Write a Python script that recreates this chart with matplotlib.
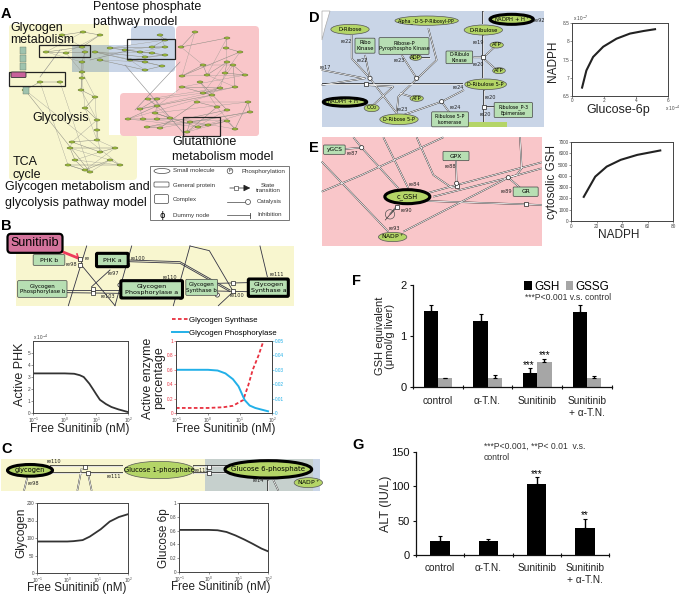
import matplotlib
matplotlib.use("Agg")
import matplotlib.pyplot as plt
from matplotlib.patches import FancyBboxPatch, Ellipse, Rectangle, Circle

plt.rcParams["font.family"] = ["Liberation Sans", "DejaVu Sans"]
W, H = 685, 598

# curves
phk_x = [0.1, 0.3, 1, 2, 3, 4, 6, 8, 10, 13, 20, 30, 50, 100]
phk_y = [3.3, 3.3, 3.3, 3.27, 3.15, 3.0, 2.45, 1.95, 1.55, 1.1, 0.75, 0.5, 0.3, 0.08]
gs_x = [0.1, 0.3, 1, 3, 6, 12.6, 18, 25, 38, 54, 80]
gs_y = [0.07, 0.07, 0.07, 0.08, 0.1, 0.18, 0.38, 0.6, 0.8, 1.0, 1.0]
gp_x = [0.1, 0.3, 1, 2, 3.5, 6, 9, 14, 20, 30, 50, 75]
gp_y = [0.03, 0.03, 0.03, 0.0295, 0.0275, 0.0235, 0.0185, 0.009, 0.0052, 0.0035, 0.0022, 0.0012]
glycogen_x = [0.1, 0.3, 1, 1.6, 3.2, 5.5, 12.6, 25, 50, 100]
glycogen_y = [90, 90, 90, 91, 94, 104, 125, 147, 160, 168]
g6p_x = [0.1, 0.3, 1, 2, 4, 8, 16, 30, 60, 100]
g6p_y = [0.61, 0.61, 0.61, 0.605, 0.58, 0.53, 0.47, 0.41, 0.34, 0.30]
nadph_x = [0.63, 0.9, 1.32, 1.95, 2.78, 3.62, 4.46, 5.19]
nadph_y = [6.73, 7.2, 7.57, 7.85, 8.07, 8.21, 8.28, 8.33]
gsh_x = [10, 19, 28, 39, 52, 70]
gsh_y = [2140, 3930, 4820, 5420, 5860, 6250]

# bar charts
groups_f = ["control", "α-T.N.", "Sunitinib", "Sunitinib\n+ α-T.N."]
gsh_val = [1.5, 1.3, 0.27, 1.48]
gsh_err = [0.11, 0.13, 0.1, 0.12]
gssg_val = [0.17, 0.18, 0.5, 0.18]
gssg_err = [0.01, 0.05, 0.05, 0.04]
alt_val = [20, 20, 103, 40]
alt_err = [7, 4, 10, 13]

# little nodes of the overview network in panel A
pink_nodes = [(195, 32), (181, 47), (227, 38), (226, 48), (240, 52), (182, 76), (203, 65), (207, 75),
              (227, 62), (225, 73), (245, 75), (233, 65), (235, 87), (203, 93), (220, 88), (182, 87),
              (212, 95), (140, 109), (157, 99), (148, 99), (157, 106), (128, 119), (143, 119), (157, 119),
              (170, 118), (155, 113), (198, 127), (208, 125), (227, 121), (235, 129), (248, 102), (250, 112),
              (190, 122), (187, 132), (217, 107), (197, 102), (160, 128), (147, 127), (227, 110), (200, 82)]
blue_nodes = [(160, 35), (165, 40), (152, 47), (165, 47), (110, 48), (125, 50), (140, 52), (152, 53),
              (165, 55), (145, 57), (95, 52), (130, 60), (145, 62), (162, 66), (145, 70), (100, 60)]
yellow_nodes = [(62, 35), (83, 32), (100, 35), (82, 47), (46, 52), (66, 53), (85, 52), (82, 62),
                (82, 72), (82, 78), (81, 90), (95, 97), (85, 108), (97, 120), (97, 130), (97, 140),
                (72, 142), (100, 152), (115, 148), (70, 148), (75, 160), (85, 170), (110, 160), (120, 165),
                (68, 165), (90, 172), (25, 90), (40, 82), (60, 82)]
complex_nodes = [(23, 50), (23, 58), (23, 66), (26, 90)]

fig = plt.figure(figsize=(W / 100, H / 100), dpi=100)
bg = fig.add_axes([0, 0, 1, 1], zorder=0)
bg.set_xlim(0, W)
bg.set_ylim(H, 0)
bg.axis("off")

GREEN = "#b7dfb3"
LIME = "#b4d567"
YEL = "#f8f6cf"
PINK = "#f9c6c9"
BLUE = "#c9d5e7"
org = (0, 0)


def px(x, y):
    return org[0] + x / 3, org[1] + y / 3


def round_rect(x0, y0, x1, y1, color, z=1):
    bg.add_patch(FancyBboxPatch((x0 + 4, y0 + 4), x1 - x0 - 8, y1 - y0 - 8, boxstyle="round,pad=4",
                                fc=color, ec="none", zorder=z))


def box(x, y, w, h, txt, bold=False, fs=3.8):
    cx, cy = px(x, y)
    bg.add_patch(FancyBboxPatch((cx - w / 6 + 1, cy - h / 6 + 1), w / 3 - 2, h / 3 - 2, boxstyle="round,pad=1",
                                fc=GREEN, ec="black" if bold else "#444444", lw=2.2 if bold else 0.5, zorder=5))
    bg.text(cx, cy, txt, fontsize=fs, ha="center", va="center", family="DejaVu Sans", zorder=6)


def ell(x, y, w, h, txt, bold=False, fs=3.8, fc=LIME):
    cx, cy = px(x, y)
    bg.add_patch(Ellipse((cx, cy), w / 3, h / 3, fc=fc, ec="black" if bold else "#555555",
                         lw=2.2 if bold else 0.5, zorder=5))
    bg.text(cx, cy, txt, fontsize=fs, ha="center", va="center", family="DejaVu Sans", zorder=6)


def wire(pts, white=True):
    xs = [px(a, b)[0] for a, b in pts]
    ys = [px(a, b)[1] for a, b in pts]
    if white:
        bg.plot(xs, ys, color="#222222", lw=1.1, zorder=3, solid_capstyle="butt")
        bg.plot(xs, ys, color="white", lw=0.6, zorder=3.5, solid_capstyle="butt")
    else:
        bg.plot(xs, ys, color="#333344", lw=0.6, zorder=3)


def sq(x, y):
    cx, cy = px(x, y)
    bg.add_patch(Rectangle((cx - 2, cy - 2), 4, 4, fc="white", ec="#222222", lw=0.5, zorder=5))


def dot(x, y):
    cx, cy = px(x, y)
    bg.add_patch(Circle((cx, cy), 2.1, fc="white", ec="#222222", lw=0.5, zorder=5))


def small(x, y, txt, fs=3.6):
    cx, cy = px(x, y)
    bg.text(cx, cy, txt, fontsize=fs, ha="center", va="center", family="DejaVu Sans", color="#222222", zorder=6)


# panel A backgrounds
round_rect(9, 24, 109, 180, YEL)
round_rect(9, 135, 137, 180, YEL)
round_rect(72, 45, 175, 72, BLUE, 1.2)
round_rect(131, 26, 175, 72, BLUE, 1.2)
round_rect(176, 26, 259, 136, PINK)
round_rect(120, 93, 259, 136, PINK)
bg.add_patch(Rectangle((72, 45), 37, 27, fc="#bcc9c4", ec="none", zorder=1.3))

# panel A overview network
for nodes, links in [(pink_nodes, 5), (blue_nodes, 3), (yellow_nodes, 3)]:
    for i in range(len(nodes) - 1):
        a, b = nodes[i], nodes[i + 1]
        bg.plot([a[0], b[0]], [a[1], b[1]], color="#8a8a80", lw=0.35, zorder=2)
        if i + links < len(nodes):
            c = nodes[i + links]
            bg.plot([a[0], c[0]], [a[1], c[1]], color="#999990", lw=0.25, zorder=2)
    for n in nodes:
        bg.add_patch(Ellipse(n, 6, 2.2, fc="#9cba3a", ec="#445522", lw=0.25, zorder=3))
for n in complex_nodes:
    bg.add_patch(Rectangle((n[0] - 3, n[1] - 3.5), 6, 7, fc="#9fc3ae", ec="#667766", lw=0.3, zorder=3))
for a, b in [((125, 65), (185, 135)), ((135, 110), (180, 62)), ((40, 77), (60, 50)), ((90, 60), (130, 50))]:
    bg.plot([a[0], b[0]], [a[1], b[1]], color="#888888", lw=0.4, zorder=2)
for x0, y0, x1, y1 in [(39, 45, 90, 57), (127, 39, 175, 59), (9, 72, 65, 86), (183, 117, 220, 136)]:
    bg.add_patch(Rectangle((x0, y0), x1 - x0, y1 - y0, fc="none", ec="#222222", lw=0.9, zorder=4))
bg.add_patch(FancyBboxPatch((12, 73), 13, 3.5, boxstyle="round,pad=1", fc="#c9609a", ec="#333333", lw=0.6, zorder=5))

for x, y, s, ha in [(10, 28, "Glycogen", "left"), (10, 40, "metabolism", "left"), (32, 118, "Glycolysis", "left"),
                    (13, 162, "TCA", "left"), (13, 175, "cycle", "left"), (93, 7, "Pentose phosphate", "left"),
                    (93, 22, "pathway model", "left"), (172, 142, "Glutathione", "left"),
                    (172, 157, "metabolism model", "left"), (5, 187, "Glycogen metabolism and", "left"),
                    (5, 203, "glycolysis pathway model", "left")]:
    bg.text(x, y, s, fontsize=9, ha=ha, va="center", color="#111111", zorder=7)

# legend of A
bg.add_patch(Rectangle((150, 165.5), 139, 54.5, fc="white", ec="#777777", lw=0.7, zorder=3))
bg.add_patch(Ellipse((162, 171), 16, 5, fc="white", ec="#444444", lw=0.5, zorder=4))
bg.add_patch(FancyBboxPatch((155, 183), 13, 3, boxstyle="round,pad=1", fc="white", ec="#444444", lw=0.5, zorder=4))
bg.add_patch(FancyBboxPatch((156, 196), 11, 6, boxstyle="round,pad=1.5", fc="white", ec="#444444", lw=0.5, zorder=4))
bg.add_patch(Circle((230, 171), 2.8, fc="white", ec="#444444", lw=0.5, zorder=4))
bg.text(230, 171, "P", fontsize=3, ha="center", va="center", zorder=5)
bg.text(162, 215, "ϕ", fontsize=6, ha="center", va="center", family="DejaVu Sans", zorder=5)
for x, y, s in [(173, 171, "Small molecule"), (173, 185.5, "General protein"), (173, 200, "Complex"),
                (173, 215, "Dummy node"), (242, 171.5, "Phosphorylation"), (257, 202, "Catalysis"),
                (257, 215, "Inhibition")]:
    bg.text(x, y, s, fontsize=4.4, ha="left", va="center", color="#333333", zorder=5)
bg.text(268, 188, "State\ntransition", fontsize=4.4, ha="center", va="center", color="#333333", zorder=5)
bg.annotate("", xy=(253, 188), xytext=(227, 188), arrowprops=dict(arrowstyle="-|>", lw=0.5, color="#222222"), zorder=4)
bg.add_patch(Rectangle((234, 186), 4, 4, fc="white", ec="#222222", lw=0.4, zorder=5))
bg.plot([227, 245], [202, 202], color="#444444", lw=0.5, zorder=4)
bg.add_patch(Circle((248, 202), 2.5, fc="white", ec="#444444", lw=0.5, zorder=5))
bg.plot([227, 250], [215, 215], color="#444444", lw=0.5, zorder=4)
bg.plot([250, 250], [212.5, 217.5], color="#444444", lw=0.6, zorder=4)

# panel B diagram
org = (0, 210)
bg.add_patch(Rectangle((16, 246), 278, 60, fc=YEL, ec="none", zorder=1))
for pts in [[(260, 108), (205, 287)], [(395, 108), (345, 287)], [(570, 108), (520, 287)],
            [(570, 108), (628, 122), (700, 245)], [(780, 108), (802, 200)], [(240, 160), (345, 287)],
            [(385, 150), (540, 155), (690, 240)], [(385, 155), (540, 160), (690, 245)], [(330, 180), (275, 230)],
            [(200, 240), (360, 240)], [(200, 248), (360, 250)], [(650, 220), (740, 218)], [(650, 243), (740, 245)],
            [(655, 287), (700, 245)]]:
    wire(pts, white=False)
for x, y in [(240, 148), (240, 165), (278, 237), (280, 250), (700, 220), (700, 244)]:
    sq(x, y)
for x, y in [(383, 165), (360, 225), (542, 262), (652, 255)]:
    dot(x, y)
bg.plot([63, 78], [252, 258], color="#ee3b5c", lw=2, zorder=4)
bg.plot([77, 79], [254, 260], color="#ee3b5c", lw=1.2, zorder=4)
box(147, 150, 95, 32, "PHK b", fs=4.4)
box(337, 150, 95, 40, "PHK a", bold=True, fs=4.6)
box(127, 237, 148, 50, "Glycogen\nPhosphorylase b", fs=4)
box(455, 238, 185, 52, "Glycogen\nPhosphorylase a", bold=True, fs=4.6)
box(605, 232, 95, 48, "Glycogen\nSynthase b", fs=4)
box(805, 233, 120, 52, "Glycogen\nSynthase a", bold=True, fs=4.6)
for x, y, s in [(260, 145, "re"), (415, 145, "re100"), (340, 190, "re97"), (215, 165, "re98"),
                (508, 203, "re110"), (830, 195, "re111"), (712, 257, "re100"), (323, 260, "re103")]:
    small(x, y, s)
cx, cy = px(105, 100)
bg.add_patch(FancyBboxPatch((cx - 24, cy - 6), 48, 12, boxstyle="round,pad=3.5", fc="#d4739c", ec="black", lw=1.6, zorder=7))
bg.text(cx, cy, "Sunitinib", fontsize=9, ha="center", va="center", zorder=8)

# panel C diagram
org = (0, 400)
bg.add_patch(Rectangle((1, 459), 204, 32, fc=YEL, ec="none", zorder=1))
bg.add_patch(Rectangle((205, 459), 108, 32, fc="#c6d0cd", ec="none", zorder=1))
bg.add_patch(Rectangle((313, 459), 7, 32, fc=BLUE, ec="none", zorder=1))
for pts in [[(150, 198), (370, 198)], [(150, 220), (370, 220)], [(580, 198), (680, 198)], [(580, 218), (680, 218)],
            [(245, 205), (232, 272)], [(265, 225), (275, 272)], [(82, 232), (72, 272)], [(805, 240), (805, 272)],
            [(820, 240), (835, 272)]]:
    wire(pts)
for x, y in [(255, 200), (265, 219), (628, 200), (628, 218)]:
    sq(x, y)
ell(90, 211, 135, 35, "glycogen", bold=True, fs=4.8)
ell(478, 210, 210, 52, "Glucose 1-phosphate", fs=4.8)
ell(805, 208, 260, 52, "Glucose 6-phosphate", bold=True, fs=5)
ell(925, 248, 85, 30, "NADP$^+$", fs=4.4)
for x, y, s in [(162, 185, "re110"), (340, 231, "re111"), (100, 250, "re98"), (605, 210, "re113"),
                (775, 243, "re14")]:
    small(x, y, s)

# panel D diagram
org = (320, 0)
bg.add_patch(Rectangle((322, 11), 222, 116, fc=BLUE, ec="none", zorder=1))
bg.fill([322, 330, 325, 322], [11, 11, 28, 40], fc="white", ec="#aaaaaa", lw=0.5, zorder=2)
for pts in [[(490, 33), (490, 72)], [(5, 253), (430, 253)], [(95, 105), (95, 175), (150, 235), (230, 340)],
            [(135, 165), (150, 235)], [(230, 340), (235, 290), (350, 180), (325, 85)], [(245, 165), (290, 235)],
            [(490, 105), (490, 235)], [(275, 175), (330, 175)], [(5, 210), (135, 235), (5, 255)], [(135, 255), (220, 260), (160, 315)],
            [(432, 270), (365, 305), (250, 345)], [(365, 305), (390, 340)], [(492, 270), (492, 370)], [(492, 322), (525, 322)],
            [(460, 172), (490, 172), (525, 140)], [(490, 175), (530, 210)], [(240, 280), (290, 295)]]:
    wire(pts)
for x, y in [(137, 253), (490, 172), (491, 322)]:
    sq(x, y)
for x, y in [(150, 235), (290, 235), (365, 305)]:
    dot(x, y)
ell(90, 88, 115, 30, "D-Ribose")
ell(320, 62, 190, 28, "Alpha_-D-5-P-Ribosyl-PP", fs=3.4)
ell(575, 58, 130, 30, "NADPH + H$^+$", bold=True)
ell(490, 90, 115, 30, "D-Ribulose")
ell(530, 135, 40, 18, "ATP")
ell(287, 172, 35, 18, "ADP")
ell(537, 212, 38, 18, "ATP")
ell(497, 253, 125, 32, "D-Ribulose 5-P", fs=3.6)
ell(290, 295, 40, 18, "ATP")
ell(75, 306, 130, 25, "NADPH + H$^+$", bold=True)
ell(155, 324, 45, 22, "CO$_2$")
ell(237, 358, 115, 32, "D-Ribose 5-P", fs=3.6)
bg.add_patch(Rectangle((467, 122), 40, 5, fc=LIME, ec="none", zorder=4))
box(135, 137, 60, 45, "Ribo\nKinase")
box(252, 138, 150, 50, "Ribose-P\nPyrophospho Kinase", fs=3.6)
box(418, 172, 80, 38, "D-Ribulo\nKinase", fs=3.4)
box(580, 330, 115, 45, "Ribulose_P-3\nEpimerase", fs=3.4)
box(390, 358, 110, 45, "Ribulose 5-P\nIsomerase", fs=3.4)
for x, y, s in [(78, 125, "re22"), (127, 180, "re22"), (238, 183, "re23"), (476, 128, "re19"), (475, 192, "re20"),
                (15, 203, "re17"), (415, 263, "re24"), (405, 323, "re24"), (510, 292, "re20"), (495, 342, "re20"),
                (248, 328, "re23"), (658, 60, "re92")]:
    small(x, y, s)

# panel E diagram
org = (320, 125)
bg.add_patch(Rectangle((322, 137), 220, 109, fc=PINK, ec="none", zorder=1))
for pts in [[(100, 37), (125, 68), (235, 190)], [(190, 37), (265, 190)], [(290, 37), (340, 150), (395, 188), (412, 185)],
            [(5, 200), (125, 150), (370, 37)], [(5, 110), (205, 320)], [(600, 37), (605, 130), (590, 150), (565, 158), (250, 320)],
            [(320, 205), (410, 180), (665, 112)], [(340, 215), (565, 158), (665, 130)], [(320, 228), (618, 238), (665, 240)],
            [(75, 72), (125, 68)], [(408, 108), (410, 180)], [(565, 158), (600, 188)], [(230, 245), (210, 268)]]:
    wire(pts)
sq(412, 184)
sq(618, 238)
sq(230, 246)
dot(125, 68)
dot(565, 158)
dot(410, 175)
ell(210, 268, 28, 28, "", fc="none")
bg.plot([320 + 196 / 3, 320 + 224 / 3], [125 + 285 / 3, 125 + 252 / 3], color="#333333", lw=0.5, zorder=6)
box(43, 74, 65, 28, "yGCS", fs=4.2)
box(408, 93, 78, 28, "GPX", fs=4.2)
box(617, 200, 75, 28, "GR", fs=4.2)
ell(262, 215, 135, 42, "c_GSH", bold=True, fs=4.8)
ell(218, 336, 85, 28, "NADP$^+$", fs=4.4)
for x, y, s in [(97, 85, "re87"), (390, 125, "re88"), (560, 200, "re89"), (284, 180, "re84"), (260, 255, "re90"),
                (224, 312, "re93")]:
    small(x, y, s)

# panel letters
for x, y, s in [(1, 14, "A"), (1, 226, "B"), (1, 449, "C"), (309, 18, "D"), (309, 148, "E"), (352, 281, "F"),
                (352, 445, "G")]:
    bg.text(x, y, s, fontsize=10.5, fontweight="bold", ha="left", va="center", zorder=9)


def chart(l, t, r, b):
    ax = fig.add_axes([l / W, 1 - b / H, (r - l) / W, (b - t) / H], zorder=2)
    for s in ax.spines.values():
        s.set_linewidth(0.7)
        s.set_color("#444444")
    ax.tick_params(labelsize=3.4, length=1.2, width=0.4, pad=0.6, colors="#444444")
    return ax


def xlab(ax, txt, cx, cy, fs):
    ax.set_xlabel(txt, fontsize=fs, color="#222222", va="center")
    ax.xaxis.set_label_coords(cx, cy, transform=bg.transData)


def ylab(ax, txt, cx, cy, fs, spacing=1.0):
    ax.set_ylabel(txt, fontsize=fs, color="#222222", va="center", linespacing=spacing)
    ax.yaxis.set_label_coords(cx, cy, transform=bg.transData)


def log_x(ax):
    ax.set_xscale("log")
    ax.set_xlim(0.1, 100)
    ax.set_xticks([0.1, 1, 10, 100])
    ax.minorticks_off()


LINE = "#333333"

# B charts
ax = chart(33, 341, 128, 413)
ax.plot(phk_x, phk_y, color=LINE, lw=1.3)
log_x(ax)
xlab(ax, "Free Sunitinib (nM)", 80, 429, 8.4)
ax.set_ylim(0, 6)
ax.set_yticks([0, 1, 2, 3, 4, 5])
ylab(ax, "Active PHK", 20, 374, 9)
ax.text(0, 1.02, "x 10$^{-4}$", transform=ax.transAxes, fontsize=3.4, color="#444444")

ax = chart(176, 341, 272, 413)
ax.plot(gs_x, gs_y, color="#e8303f", lw=1.3, ls=(0, (2, 1.3)), label="Glycogen Synthase")
log_x(ax)
xlab(ax, "Free Sunitinib (nM)", 226, 429, 8.4)
ax.set_ylim(0, 1)
ax.set_yticks([0, 0.2, 0.4, 0.6, 0.8, 1])
ax.set_yticklabels(["0", "0.2", "0.4", "0.6", "0.8", "1"])
ax.tick_params(axis="y", colors="#e8303f")
ylab(ax, "Active enzyme\npercentage", 154, 378, 9, 0.9)
ax2 = ax.twinx()
ax2.plot(gp_x, gp_y, color="#22b0e8", lw=1.4, label="Glycogen Phosphorylase")
ax2.set_ylim(0, 0.05)
ax2.set_yticks([0, 0.01, 0.02, 0.03, 0.04, 0.05])
ax2.set_yticklabels(["0", "0.01", "0.02", "0.03", "0.04", "0.05"])
ax2.tick_params(labelsize=3.4, length=1.2, width=0.4, pad=0.6, colors="#22b0e8")
for s in ax2.spines.values():
    s.set_linewidth(0.7)
    s.set_color("#444444")
h1, l1 = ax.get_legend_handles_labels()
h2, l2 = ax2.get_legend_handles_labels()
fig.legend(h1 + h2, l1 + l2, loc="upper left", bbox_to_anchor=(172 / W, 1 - 316 / H), frameon=False, fontsize=5.7,
           handlelength=2, handletextpad=0.15, labelspacing=0.75, borderpad=0, borderaxespad=0)

# C charts
ax = chart(37, 503, 128, 573)
ax.plot(glycogen_x, glycogen_y, color=LINE, lw=1.3)
log_x(ax)
xlab(ax, "Free Sunitinib (nM)", 77, 588, 8.4)
ax.set_ylim(0, 200)
ax.set_yticks([0, 50, 100, 150, 200])
ylab(ax, "Glycogen", 21, 533, 8.6)

ax = chart(179, 503, 268, 572)
ax.plot(g6p_x, g6p_y, color=LINE, lw=1.3)
log_x(ax)
xlab(ax, "Free Sunitinib (nM)", 221, 587, 8.4)
ax.set_ylim(0, 1)
ax.set_yticks([0, 0.2, 0.4, 0.6, 0.8, 1])
ax.set_yticklabels(["0", "0.2", "0.4", "0.6", "0.8", "1"])
ylab(ax, "Glucose 6p", 164, 538, 8.5)

# D chart
ax = chart(572, 23, 668, 96)
ax.plot(nadph_x, nadph_y, color="#222222", lw=1.5)
ax.set_xlim(0, 6)
ax.set_ylim(6.5, 8.5)
ax.set_xticks([0, 2, 4, 6])
ax.set_yticks([6.5, 7, 7.5, 8, 8.5])
ax.set_yticklabels(["6.5", "7", "7.5", "8", "8.5"])
xlab(ax, "Glucose-6p", 618, 110, 9)
ylab(ax, "NADPH", 553, 61, 8.5)
ax.text(0.01, 1.03, "x 10$^{-7}$", transform=ax.transAxes, fontsize=3.4, color="#444444")
ax.text(0.97, -0.2, "x 10$^{-4}$", transform=ax.transAxes, fontsize=3.4, color="#444444")

# E chart
ax = chart(571, 142, 673, 221)
ax.plot(gsh_x, gsh_y, color="#222222", lw=1.5)
ax.set_xlim(0, 80)
ax.set_ylim(0, 7000)
ax.set_xticks([0, 20, 40, 60, 80])
ax.set_yticks(range(0, 7001, 1000))
xlab(ax, "NADPH", 619, 235, 8.5)
ylab(ax, "cytosolic GSH", 552, 182, 8.5)


def bar_axes(ax):
    for s in ["top", "right"]:
        ax.spines[s].set_visible(False)
    for s in ["left", "bottom"]:
        ax.spines[s].set_linewidth(0.9)
        ax.spines[s].set_color("#111111")
    ax.set_xlim(0, 4)
    ax.set_xticks([0, 1, 2, 3, 4])
    ax.set_xticklabels([])
    ax.tick_params(axis="both", length=2.5, width=0.8, direction="out", labelsize=8, colors="#111111", pad=2)
    ax.tick_params(axis="x", direction="inout", length=3.5)


# F bars
ax = chart(413, 285, 612, 387)
cent = [i + 0.5 for i in range(4)]
ax.bar([c - 0.142 for c in cent], gsh_val, width=0.285, color="black", label="GSH")
ax.bar([c + 0.142 for c in cent], gssg_val, width=0.285, color="#a6a6a6", label="GSSG")
ax.errorbar([c - 0.142 for c in cent], gsh_val, yerr=[[0] * 4, gsh_err], fmt="none", ecolor="black", elinewidth=1,
            capsize=1.5, capthick=0.8)
ax.errorbar([c + 0.142 for c in cent], gssg_val, yerr=[[0] * 4, gssg_err], fmt="none", ecolor="black", elinewidth=1,
            capsize=1.5, capthick=0.8)
bar_axes(ax)
ax.set_ylim(0, 2)
ax.set_yticks([0, 1, 2])
ylab(ax, "GSH equivalent\n(μmol/g liver)", 385, 336, 8)
for c, s in zip(cent, groups_f):
    ax.text(c, -0.17, s, ha="center", va="top", fontsize=7.3, color="#222222", linespacing=1.3)
ax.text(cent[2] - 0.18, gsh_val[2] + gsh_err[2] - 0.03, "***", ha="center", va="bottom", fontsize=7)
ax.text(cent[2] + 0.142, gssg_val[2] + gssg_err[2] - 0.03, "***", ha="center", va="bottom", fontsize=7)
ax.text(2.25, 1.75, "***P<0.001 v.s. control", fontsize=6.2, color="#333333", va="center", ha="left")
ax.legend(loc="upper left", bbox_to_anchor=(0.56, 1.04), ncol=2, frameon=False, fontsize=8.4, handlelength=0.65,
          handleheight=0.8, handletextpad=0.2, columnspacing=0.5, borderpad=0, borderaxespad=0)

# G bars
ax = chart(416, 452, 609, 555)
ax.bar(cent, alt_val, width=0.4, color="black")
ax.errorbar(cent, alt_val, yerr=[[0] * 4, alt_err], fmt="none", ecolor="black", elinewidth=1, capsize=1.5,
            capthick=0.8)
bar_axes(ax)
ax.set_ylim(0, 150)
ax.set_yticks([0, 50, 100, 150])
ylab(ax, "ALT (IU/L)", 386, 504, 9)
for c, s in zip(cent, groups_f):
    ax.text(c, -11.5, s, ha="center", va="top", fontsize=7.3, color="#222222", linespacing=1.3)
ax.text(cent[2], alt_val[2] + alt_err[2] - 3, "***", ha="center", va="bottom", fontsize=7)
ax.text(cent[3], alt_val[3] + alt_err[3] - 2, "**", ha="center", va="bottom", fontsize=7)
ax.text(1.4, 150, "***P<0.001, **P< 0.01  v.s.\ncontrol", fontsize=6.2, color="#333333", va="center", ha="left",
        linespacing=1.3)

fig.savefig("out.png", dpi=100)
